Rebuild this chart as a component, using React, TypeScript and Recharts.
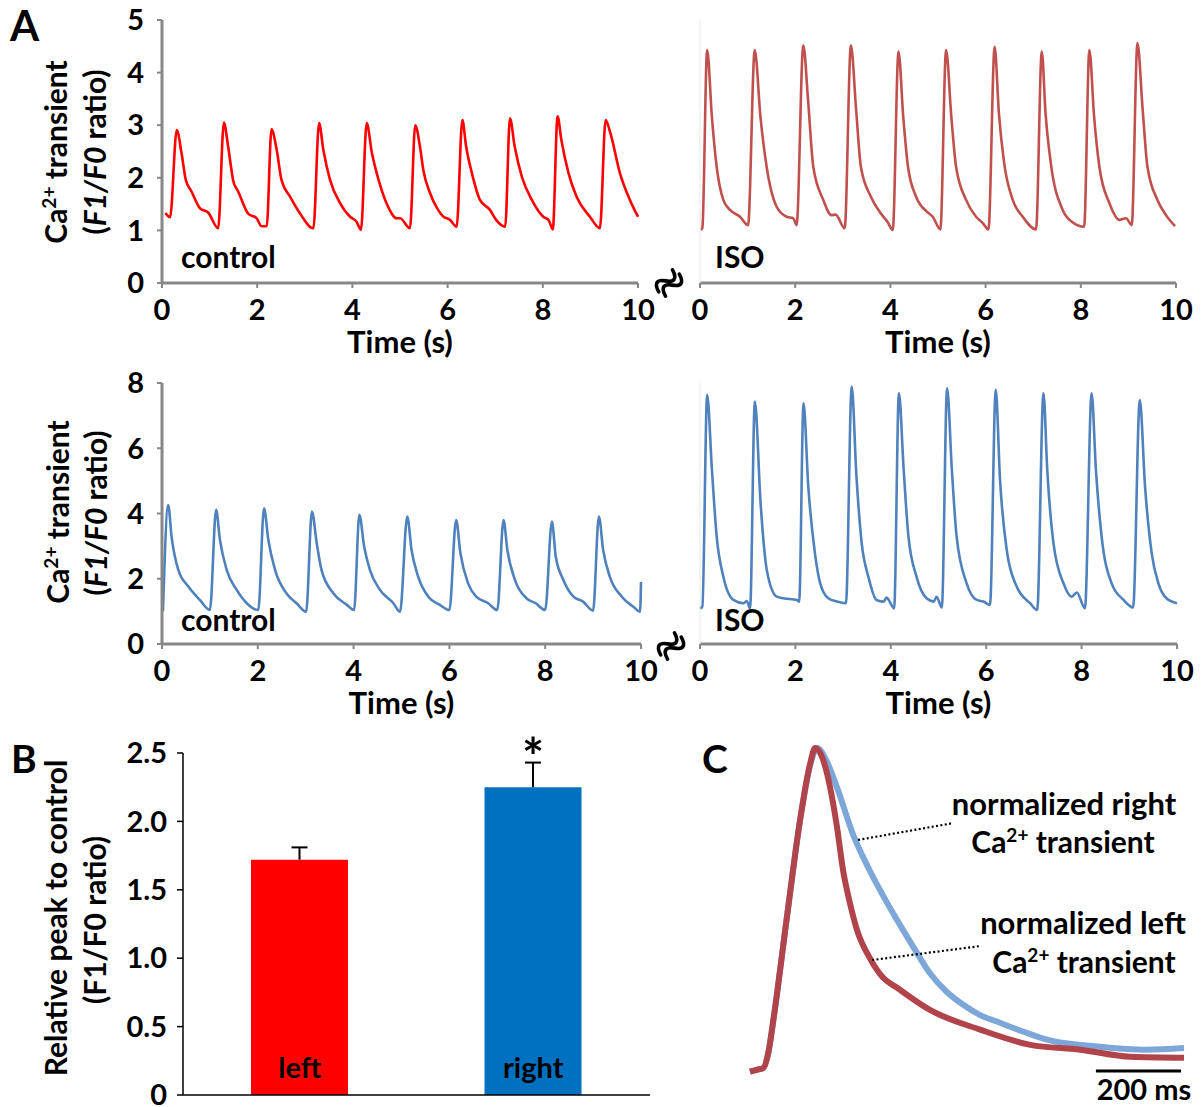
import React from 'react';
import {
  LineChart,
  Line,
  XAxis,
  YAxis,
  BarChart,
  Bar,
  Cell,
  LabelList,
  ReferenceLine,
} from 'recharts';

// ---------- tick labels ----------
const timeTicks = [0, 2, 4, 6, 8, 10];
const leftPanelTicks = [0, 1, 2, 3, 4, 5];
const rightPanelTicks = [0, 2, 4, 6, 8];
const barTicks = [0, 0.5, 1, 1.5, 2, 2.5];

// ---------- panel A traces: [time (s), F1/F0] ----------
const leftControl: [number, number][] = [
  [0.07, 1.33], [0.17, 1.25], [0.31, 2.91], [0.41, 2.47], [0.5, 1.96], [0.62, 1.74], [0.8, 1.42], [0.97, 1.34], [1.18, 1.04],
  [1.3, 3.05], [1.39, 2.59], [1.5, 1.93], [1.6, 1.74], [1.81, 1.32], [1.99, 1.23], [2.09, 1.08], [2.2, 1.08],
  [2.3, 2.92], [2.41, 2.53], [2.51, 1.96], [2.69, 1.64], [2.9, 1.32], [3.18, 1.04],
  [3.3, 3.04], [3.39, 2.53], [3.53, 1.96], [3.74, 1.52], [3.95, 1.26], [4.09, 1.16], [4.18, 1.01],
  [4.3, 3.04], [4.41, 2.47], [4.55, 1.96], [4.75, 1.45], [4.93, 1.23], [5.0, 1.23], [5.21, 1.04],
  [5.32, 3.0], [5.42, 2.59], [5.49, 2.15], [5.63, 1.71], [5.8, 1.39], [5.9, 1.27], [6.05, 1.2], [6.19, 1.07],
  [6.31, 3.1], [6.39, 2.59], [6.51, 2.09], [6.68, 1.58], [6.89, 1.39], [7.02, 1.2], [7.21, 1.07],
  [7.31, 3.13], [7.41, 2.59], [7.56, 2.02], [7.77, 1.58], [8.01, 1.26], [8.12, 1.2], [8.21, 1.02],
  [8.31, 3.17], [8.39, 2.72], [8.54, 2.09], [8.71, 1.64], [8.99, 1.26], [9.2, 1.04],
  [9.32, 3.1], [9.42, 2.85], [9.62, 2.09], [9.83, 1.58], [10.0, 1.26],
];

const leftIso: [number, number][] = [
  [0.02, 1.01], [0.05, 1.05], [0.15, 4.43], [0.25, 3.16], [0.35, 2.21], [0.49, 1.58], [0.63, 1.39], [0.84, 1.26], [1.01, 1.1],
  [1.15, 4.43], [1.27, 3.16], [1.4, 2.21], [1.61, 1.45], [1.82, 1.26], [1.96, 1.23], [2.03, 1.1],
  [2.17, 4.52], [2.27, 3.48], [2.38, 2.21], [2.59, 1.58], [2.76, 1.29], [2.85, 1.3], [3.04, 1.04],
  [3.17, 4.52], [3.28, 3.29], [3.38, 2.21], [3.59, 1.64], [3.8, 1.32], [3.94, 1.16], [4.05, 1.01],
  [4.17, 4.4], [4.27, 3.16], [4.37, 2.21], [4.54, 1.64], [4.76, 1.36], [4.89, 1.26], [5.05, 1.02],
  [5.17, 4.43], [5.28, 3.16], [5.38, 2.21], [5.59, 1.58], [5.8, 1.26], [5.94, 1.14], [6.06, 1.02],
  [6.19, 4.49], [6.28, 3.22], [6.39, 2.28], [6.57, 1.58], [6.78, 1.26], [7.06, 1.02],
  [7.18, 4.4], [7.26, 3.22], [7.37, 2.28], [7.62, 1.39], [7.82, 1.16], [8.07, 1.07],
  [8.18, 4.43], [8.28, 3.16], [8.39, 2.21], [8.6, 1.52], [8.81, 1.2], [8.95, 1.23], [9.07, 1.1],
  [9.19, 4.56], [9.3, 3.29], [9.4, 2.21], [9.61, 1.58], [9.79, 1.29], [9.98, 1.08],
];

const rightControl: [number, number][] = [
  [0.02, 1.0], [0.13, 4.26], [0.2, 3.29], [0.34, 2.27], [0.55, 1.76], [0.79, 1.35], [1.0, 1.04],
  [1.13, 4.11], [1.21, 3.19], [1.35, 2.27], [1.56, 1.66], [1.77, 1.25], [2.01, 1.04],
  [2.13, 4.16], [2.22, 3.19], [2.36, 2.27], [2.6, 1.55], [2.81, 1.25], [3.01, 0.99],
  [3.13, 4.06], [3.23, 3.09], [3.33, 2.27], [3.58, 1.55], [3.86, 1.2], [4.01, 1.04],
  [4.12, 3.96], [4.22, 2.99], [4.34, 2.27], [4.55, 1.66], [4.83, 1.25], [4.97, 0.99],
  [5.12, 3.91], [5.21, 2.88], [5.35, 2.06], [5.56, 1.45], [5.8, 1.2], [6.0, 1.04],
  [6.14, 3.8], [6.23, 2.78], [6.39, 1.86], [6.56, 1.45], [6.81, 1.25], [7.0, 1.04],
  [7.13, 3.8], [7.21, 2.88], [7.37, 1.96], [7.61, 1.4], [7.8, 1.25], [8.0, 1.04],
  [8.14, 3.75], [8.22, 2.68], [8.38, 1.96], [8.59, 1.45], [8.79, 1.3], [9.0, 1.02],
  [9.12, 3.91], [9.21, 2.88], [9.35, 2.06], [9.6, 1.45], [9.84, 1.14], [9.98, 0.99], [10.0, 1.9],
];

const rightIso: [number, number][] = [
  [0.0, 1.09], [0.05, 1.15], [0.15, 7.64], [0.25, 5.34], [0.35, 3.29], [0.49, 2.06], [0.7, 1.35], [0.91, 1.25], [0.98, 1.32], [1.05, 1.09],
  [1.15, 7.43], [1.27, 4.32], [1.4, 2.27], [1.61, 1.45], [1.75, 1.4], [2.03, 1.35], [2.08, 1.3],
  [2.17, 7.38], [2.27, 4.83], [2.41, 2.78], [2.52, 1.86], [2.69, 1.4], [2.87, 1.3], [3.06, 1.25],
  [3.18, 7.89], [3.28, 5.13], [3.39, 3.09], [3.53, 2.06], [3.7, 1.35], [3.85, 1.3], [3.91, 1.42], [4.07, 1.09],
  [4.17, 7.69], [4.27, 5.34], [4.37, 3.29], [4.54, 2.06], [4.75, 1.4], [4.9, 1.3], [4.96, 1.45], [5.07, 1.12],
  [5.18, 7.84], [5.28, 5.34], [5.38, 3.29], [5.59, 1.86], [5.8, 1.35], [5.94, 1.3], [6.08, 1.2],
  [6.2, 7.79], [6.29, 5.03], [6.43, 2.88], [6.64, 1.76], [6.92, 1.25], [7.07, 1.04],
  [7.2, 7.69], [7.28, 5.34], [7.41, 3.09], [7.62, 1.86], [7.79, 1.45], [7.9, 1.58], [8.07, 1.09],
  [8.21, 7.69], [8.3, 5.34], [8.42, 3.29], [8.63, 1.86], [8.88, 1.35], [9.08, 1.12],
  [9.22, 7.48], [9.33, 4.83], [9.47, 2.78], [9.61, 1.86], [9.78, 1.4], [10.0, 1.25],
];

// ---------- panel B ----------
const barCategories = ['left', 'right'];
const barValues = [1.72, 2.25];
const barErrors = [0.09, 0.18];
const barMarks = ['', '*'];
const barColors = ['#ff0000', '#0070c0'];

// ---------- panel C: [time (ms), normalized] ----------
const normLeft: [number, number][] = [
  [0, 0], [16, 0.006], [31, 0.011], [43, 0.058], [55, 0.16], [86, 0.47], [118, 0.78], [141, 0.95], [153, 1.0],
  [170, 0.97], [188, 0.88], [204, 0.76], [219, 0.62], [235, 0.52], [251, 0.44], [282, 0.35], [313, 0.29],
  [345, 0.26], [424, 0.19], [541, 0.13], [659, 0.083], [776, 0.068], [894, 0.046], [1020, 0.043],
];
const normRight: [number, number][] = [
  [0, 0], [16, 0.006], [31, 0.011], [43, 0.058], [55, 0.16], [86, 0.47], [118, 0.78], [142, 0.95], [158, 1.0],
  [180, 0.96], [204, 0.88], [243, 0.73], [282, 0.62], [345, 0.47], [384, 0.385], [423, 0.304], [462, 0.247],
  [502, 0.206], [541, 0.175], [580, 0.155], [640, 0.125], [698, 0.099], [816, 0.078], [933, 0.068], [1020, 0.073],
];

const FONT = 'Lato, "DejaVu Sans", sans-serif';
const AXIS_GREY = '#878787';
const tickStyle = { fill: '#000', fontSize: 29, fontWeight: 700, fontFamily: FONT };

const toRows = (pts: [number, number][]) => pts.map(([t, v]) => ({ t, v }));

type TraceProps = {
  points: [number, number][];
  color: string;
  yMax: number;
  yTicks: number[];
  showY: boolean;
  left: number;
  top: number;
  width: number;
  marginRight: number;
  yWidth: number;
  xHeight: number;
  labelOffset: number;
};

function Trace(p: TraceProps) {
  return (
    <div style={{ position: 'absolute', left: p.left, top: p.top }}>
      <LineChart
        width={p.width}
        height={370}
        data={toRows(p.points)}
        margin={{ top: 20, right: p.marginRight, bottom: 0, left: 0 }}
        style={{ fontFamily: FONT }}
      >
        <XAxis
          dataKey="t"
          type="number"
          domain={[0, 10]}
          ticks={timeTicks}
          interval={0}
          height={p.xHeight}
          axisLine={{ stroke: AXIS_GREY, strokeWidth: 3 }}
          tickLine={{ stroke: AXIS_GREY, strokeWidth: 2 }}
          tickSize={5}
          tickMargin={11}
          tick={tickStyle}
          label={{
            value: 'Time (s)',
            position: 'insideBottom',
            offset: p.labelOffset,
            fill: '#000',
            fontSize: 31,
            fontWeight: 700,
            fontFamily: FONT,
          }}
        />
        {p.showY ? (
          <YAxis
            type="number"
            domain={[0, p.yMax]}
            ticks={p.yTicks}
            interval={0}
            width={p.yWidth}
            axisLine={{ stroke: AXIS_GREY, strokeWidth: 3 }}
            tickLine={{ stroke: AXIS_GREY, strokeWidth: 2 }}
            tickSize={5}
            tickMargin={13}
            tick={tickStyle}
          />
        ) : (
          <YAxis
            type="number"
            domain={[0, p.yMax]}
            ticks={p.yTicks}
            width={p.yWidth}
            axisLine={{ stroke: '#e9e9e9', strokeWidth: 1 }}
            tickLine={false}
            tick={false}
          />
        )}
        <Line
          type="monotone"
          dataKey="v"
          stroke={p.color}
          strokeWidth={2.6}
          strokeLinejoin="round"
          dot={false}
          isAnimationActive={false}
        />
      </LineChart>
    </div>
  );
}

function RotTitle({ x, y, children, size = 30 }: { x: number; y: number; children: React.ReactNode; size?: number }) {
  return (
    <text
      transform={`translate(${x},${y}) rotate(-90)`}
      textAnchor="middle"
      fontSize={size}
      fontWeight={700}
      fontFamily={FONT}
      fill="#000"
    >
      {children}
    </text>
  );
}

const Ca = ({ sup = 19, shift = 11 }: { sup?: number; shift?: number }) => (
  <>
    <tspan>Ca</tspan>
    <tspan dy={-shift} fontSize={sup}>2+</tspan>
    <tspan dy={shift}> transient</tspan>
  </>
);

const RatioItalic = () => (
  <>
    <tspan>(</tspan>
    <tspan fontStyle="italic">F1/F0</tspan>
    <tspan> ratio)</tspan>
  </>
);

function BarTick(props: any) {
  const { x, y, payload } = props;
  return (
    <text x={x} y={y - 17} textAnchor="middle" fontSize={29} fontWeight={700} fontFamily={FONT} fill="#000">
      {payload.value}
    </text>
  );
}

// error bar (upper half only) + significance mark, derived from each bar's own geometry
function ErrorAndMark(props: any) {
  const vb = props.viewBox || props;
  const i = Number(props.value);
  const { x, y, width, height } = vb;
  const pxPerUnit = height / barValues[i];
  const cx = x + width / 2;
  const top = y - barErrors[i] * pxPerUnit;
  return (
    <g>
      <line x1={cx} x2={cx} y1={y} y2={top} stroke="#000" strokeWidth={2} />
      <line x1={cx - 8} x2={cx + 8} y1={top} y2={top} stroke="#000" strokeWidth={2} />
      {barMarks[i] ? (
        <text x={cx} y={top + 13} textAnchor="middle" fontSize={52} fontWeight={700} fontFamily={FONT} fill="#000">
          {barMarks[i]}
        </text>
      ) : null}
    </g>
  );
}

function BreakMark({ cx, cy }: { cx: number; cy: number }) {
  const wave = 'M -13,0 C -8,-9 -3,-8 0,0 C 3,8 8,9 13,0';
  return (
    <g transform={`translate(${cx},${cy}) rotate(-58)`} fill="none" stroke="#000" strokeWidth={3.6} strokeLinecap="round">
      <path d={wave} transform="translate(0,-4)" />
      <path d={wave} transform="translate(0,4)" />
    </g>
  );
}

export default function App() {
  const barData = barCategories.map((name, i) => ({
    name,
    value: barValues[i],
    idx: i,
  }));

  const txt = { fontFamily: FONT, fontWeight: 700, fill: '#000' } as const;

  return (
    <div
      style={{
        position: 'absolute',
        left: 0,
        top: 0,
        width: 1202,
        height: 1107,
        background: '#fff',
        overflow: 'hidden',
        fontFamily: FONT,
      }}
    >
      {/* Panel A */}
      <Trace points={leftControl} color="#ff0000" yMax={5} yTicks={leftPanelTicks} showY left={0} top={0}
        width={660} marginRight={22} yWidth={162} xHeight={87} labelOffset={17} />
      <Trace points={leftIso} color="#c0504d" yMax={5} yTicks={leftPanelTicks} showY={false} left={640} top={0}
        width={560} marginRight={24} yWidth={60} xHeight={87} labelOffset={17} />
      <Trace points={rightControl} color="#4f81bd" yMax={8} yTicks={rightPanelTicks} showY left={0} top={363}
        width={660} marginRight={19} yWidth={162} xHeight={89} labelOffset={19} />
      <Trace points={rightIso} color="#4f81bd" yMax={8} yTicks={rightPanelTicks} showY={false} left={640} top={363}
        width={560} marginRight={23} yWidth={60} xHeight={89} labelOffset={19} />

      {/* Panel B */}
      <div style={{ position: 'absolute', left: 0, top: 720 }}>
        <BarChart width={680} height={387} data={barData} margin={{ top: 33, right: 30, left: 0, bottom: 0 }}>
          <XAxis
            dataKey="name"
            height={12}
            axisLine={{ stroke: '#000', strokeWidth: 1.5 }}
            tickLine={false}
            tickSize={0}
            tickMargin={0}
            interval={0}
            tick={<BarTick />}
          />
          <YAxis
            type="number"
            domain={[0, 2.5]}
            ticks={barTicks}
            interval={0}
            width={183}
            axisLine={{ stroke: '#000', strokeWidth: 1.5 }}
            tickLine={{ stroke: '#000', strokeWidth: 1.5 }}
            tickSize={6}
            tickMargin={10}
            tick={tickStyle}
            tickFormatter={(v: number) => (v === 0 ? '0' : v.toFixed(1))}
          />
          <Bar dataKey="value" barSize={97} isAnimationActive={false}>
            {barData.map((d, i) => (
              <Cell key={d.name} fill={barColors[i]} />
            ))}
            <LabelList dataKey="idx" content={<ErrorAndMark />} />
          </Bar>
        </BarChart>
      </div>

      {/* Panel C */}
      <div style={{ position: 'absolute', left: 700, top: 720 }}>
        <LineChart width={502} height={387} margin={{ top: 28, right: 18, left: 50, bottom: 11 }}>
          <XAxis type="number" dataKey="t" domain={[0, 1020]} hide />
          <YAxis type="number" domain={[-0.075, 1]} hide />
          <Line data={toRows(normRight)} dataKey="v" type="monotone" stroke="#7da6d9" strokeWidth={6}
            dot={false} isAnimationActive={false} />
          <Line data={toRows(normLeft)} dataKey="v" type="monotone" stroke="#b0444a" strokeWidth={6}
            dot={false} isAnimationActive={false} />
          <ReferenceLine segment={[{ x: 254, y: 0.716 }, { x: 477, y: 0.768 }]} stroke="#000" strokeWidth={2.2}
            strokeDasharray="2 2.4" ifOverflow="visible" />
          <ReferenceLine segment={[{ x: 287, y: 0.345 }, { x: 540, y: 0.388 }]} stroke="#000" strokeWidth={2.2}
            strokeDasharray="2 2.4" ifOverflow="visible" />
          <ReferenceLine segment={[{ x: 813, y: 0.002 }, { x: 1013, y: 0.002 }]} stroke="#000" strokeWidth={3}
            ifOverflow="visible" />
        </LineChart>
      </div>

      {/* text overlay */}
      <svg
        width={1202}
        height={1107}
        style={{ position: 'absolute', left: 0, top: 0, pointerEvents: 'none' }}
      >
        <text x={10} y={41} fontSize={42} {...txt}>A</text>
        <text x={11} y={773} fontSize={39} {...txt}>B</text>
        <text x={702} y={773} fontSize={39} {...txt}>C</text>

        <RotTitle x={67} y={152}><Ca /></RotTitle>
        <RotTitle x={106} y={152}><RatioItalic /></RotTitle>
        <RotTitle x={69} y={512}><Ca /></RotTitle>
        <RotTitle x={107} y={513}><RatioItalic /></RotTitle>
        <RotTitle x={67} y={918}>Relative peak to control</RotTitle>
        <RotTitle x={106} y={920}>(F1/F0 ratio)</RotTitle>

        <text x={181} y={268} fontSize={30} {...txt}>control</text>
        <text x={715} y={268} fontSize={30} {...txt}>ISO</text>
        <text x={181} y={631} fontSize={30} {...txt}>control</text>
        <text x={715} y={631} fontSize={30} {...txt}>ISO</text>

        <BreakMark cx={669} cy={283} />
        <BreakMark cx={671} cy={646} />

        <text x={1064} y={815} fontSize={31} textAnchor="middle" {...txt}>normalized right</text>
        <text x={1063} y={853} fontSize={30} textAnchor="middle" {...txt}><Ca sup={19} shift={11} /></text>
        <text x={1083} y={934} fontSize={31} textAnchor="middle" {...txt}>normalized left</text>
        <text x={1084} y={973} fontSize={30} textAnchor="middle" {...txt}><Ca sup={19} shift={11} /></text>
        <text x={1144} y={1100} fontSize={29} textAnchor="middle" {...txt}>200 ms</text>
      </svg>
    </div>
  );
}
